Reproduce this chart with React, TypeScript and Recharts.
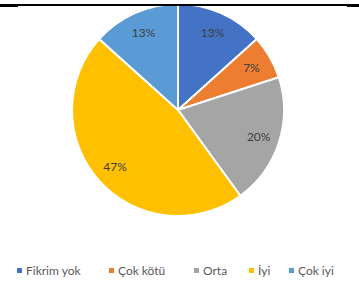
import React from "react";
import { PieChart, Pie, Cell, Legend } from "recharts";

const categories = ["Fikrim yok", "Çok kötü", "Orta", "İyi", "Çok iyi"];
const counts = [2, 1, 3, 7, 2];
const colors = ["#4472C4", "#ED7D31", "#A5A5A5", "#FFC000", "#5B9BD5"];

const data = categories.map((name, i) => ({ name, value: counts[i] }));
const total = counts.reduce((a, b) => a + b, 0);

const RAD = Math.PI / 180;

const renderLabel = (props: any) => {
  const { cx, cy, midAngle, outerRadius, value } = props;
  const r = outerRadius * 0.8;
  const x = cx + r * Math.cos(-midAngle * RAD);
  const y = cy + r * Math.sin(-midAngle * RAD);
  return (
    <text
      x={x}
      y={y}
      fill="#404040"
      fontSize={12}
      fontFamily="Lato, sans-serif"
      textAnchor="middle"
      dominantBaseline="central"
    >
      {Math.round((value / total) * 100)}%
    </text>
  );
};

const legendX = [17, 109, 194, 249, 289];

const renderLegend = () => (
  <div
    style={{
      position: "absolute",
      left: 0,
      top: 263,
      width: 359,
      height: 14,
      fontFamily: "Lato, sans-serif",
      fontSize: 12,
      color: "#595959",
      whiteSpace: "nowrap",
    }}
  >
    {categories.map((c, i) => (
      <div
        key={c}
        style={{ position: "absolute", left: legendX[i], top: 0, display: "flex", alignItems: "center", height: 14 }}
      >
        <span style={{ display: "inline-block", width: 5, height: 5, background: colors[i], marginRight: 4 }} />
        <span>{c}</span>
      </div>
    ))}
  </div>
);

export default function App() {
  return (
    <div style={{ position: "absolute", left: 0, top: 0, width: 359, height: 281, background: "#fff" }}>
      <PieChart width={359} height={281} margin={{ top: 0, right: 0, bottom: 0, left: 0 }}>
        <Pie
          data={data}
          dataKey="value"
          nameKey="name"
          cx={178}
          cy={110}
          outerRadius={106}
          startAngle={90}
          endAngle={-270}
          stroke="#ffffff"
          strokeWidth={2}
          label={renderLabel}
          labelLine={false}
          isAnimationActive={false}
        >
          {data.map((d, i) => (
            <Cell key={d.name} fill={colors[i]} />
          ))}
        </Pie>
        <Legend content={renderLegend} wrapperStyle={{ position: "absolute", left: 0, top: 0, width: 359 }} />
      </PieChart>
      <div style={{ position: "absolute", left: 0, top: 4, width: 359, height: 2, background: "#000", zIndex: 5 }} />
      <div style={{ position: "absolute", left: 0, top: 4, width: 18, height: 3, background: "#000", zIndex: 5 }} />
      <div style={{ position: "absolute", left: 347, top: 4, width: 12, height: 3, background: "#000", zIndex: 5 }} />
    </div>
  );
}
